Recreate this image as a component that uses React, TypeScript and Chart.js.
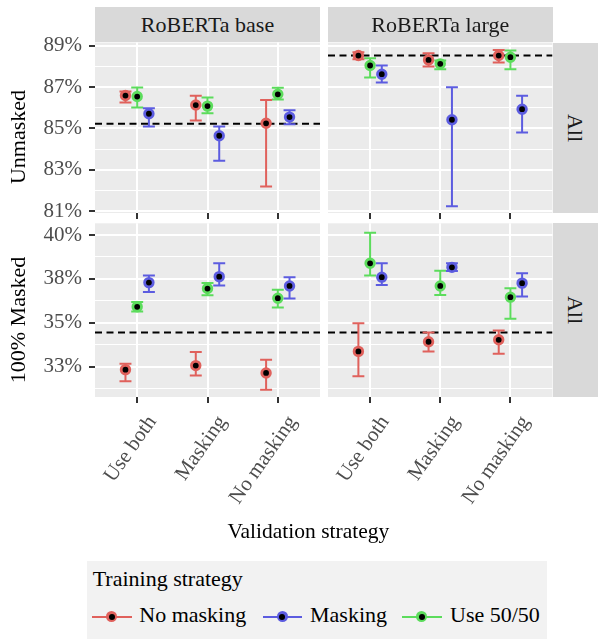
import React, { useEffect, useRef } from 'react';
import { Chart, registerables } from 'chart.js';

Chart.register(...registerables);

// ---------- data ----------
const CATEGORIES = ['Use both', 'Masking', 'No masking'];
const SERIES = ['No masking', 'Masking', 'Use 50/50'];
const MODELS = ['RoBERTa base', 'RoBERTa large'];
const ROW_TITLES = ['Unmasked', '100% Masked'];
const ROW_STRIP = 'All';
const LEGEND_TITLE = 'Training strategy';
const X_TITLE = 'Validation strategy';

// each array: rows = series (No masking, Masking, Use 50/50), columns = categories
const BASE_UNMASKED_MEAN = [[86.59, 86.13, 85.25], [85.71, 84.65, 85.55], [86.54, 86.08, 86.65]];
const BASE_UNMASKED_LOW = [[86.25, 85.39, 82.2], [85.1, 83.44, 85.2], [86.01, 85.74, 86.4]];
const BASE_UNMASKED_HIGH = [[86.78, 86.58, 86.37], [85.98, 85.1, 85.88], [86.98, 86.49, 86.97]];
const LARGE_UNMASKED_MEAN = [[88.52, 88.31, 88.52], [87.62, 85.42, 85.93], [88.04, 88.12, 88.44]];
const LARGE_UNMASKED_LOW = [[88.34, 87.99, 88.18], [87.22, 81.24, 84.81], [87.46, 87.86, 87.86]];
const LARGE_UNMASKED_HIGH = [[88.68, 88.63, 88.79], [88.04, 86.99, 86.58], [88.39, 88.28, 88.76]];
const BASE_MASKED_MEAN = [[32.33, 32.56, 32.14], [37.29, 37.63, 37.1], [35.91, 36.95, 36.4]];
const BASE_MASKED_LOW = [[31.67, 32.0, 31.19], [36.76, 37.12, 36.38], [35.64, 36.57, 35.87]];
const BASE_MASKED_HIGH = [[32.67, 33.33, 32.9], [37.69, 38.39, 37.6], [36.18, 37.27, 36.88]];
const LARGE_MASKED_MEAN = [[33.37, 33.92, 34.03], [37.6, 38.16, 37.26], [38.39, 37.1, 36.46]];
const LARGE_MASKED_LOW = [[31.95, 33.37, 33.24], [37.16, 37.95, 36.5], [37.69, 36.59, 35.23]];
const LARGE_MASKED_HIGH = [[34.98, 34.45, 34.56], [38.39, 38.39, 37.82], [40.13, 37.97, 36.97]];
const UNMASKED_BASELINES = [85.23, 88.52];
const MASKED_BASELINES = [34.45, 34.45];

const UNMASKED_TICKS = [81, 83, 85, 87, 89];
const UNMASKED_TICK_LABELS = ['81%', '83%', '85%', '87%', '89%'];
const UNMASKED_MINOR = [82, 84, 86, 88];
const MASKED_TICKS = [32.5, 35, 37.5, 40];
const MASKED_TICK_LABELS = ['33%', '35%', '38%', '40%'];
const MASKED_MINOR = [31.25, 33.75, 36.25, 38.75];
const UNMASKED_LIMITS = [80.92, 89.15];
const MASKED_LIMITS = [30.77, 40.67];
const X_LIMITS = [0.4, 3.6];

const MEANS = [[BASE_UNMASKED_MEAN, LARGE_UNMASKED_MEAN], [BASE_MASKED_MEAN, LARGE_MASKED_MEAN]];
const LOWS = [[BASE_UNMASKED_LOW, LARGE_UNMASKED_LOW], [BASE_MASKED_LOW, LARGE_MASKED_LOW]];
const HIGHS = [[BASE_UNMASKED_HIGH, LARGE_UNMASKED_HIGH], [BASE_MASKED_HIGH, LARGE_MASKED_HIGH]];
const BASELINES = [UNMASKED_BASELINES, MASKED_BASELINES];

// ---------- style / layout ----------
const W = 601;
const H = 639;
const FONT = 'Liberation Serif';
const COLORS = ['#E0615C', '#5C5CE0', '#5CDC5C'];
const DODGE = [-1 / 6, 1 / 6, 0];
const CAP = 0.085;
const COL_X = [[95, 320], [328, 552.5]];
const ROW_Y = [[42.5, 213], [223.3, 397]];
const Y_AXIS_W = 80;
const X_AXIS_H = 140;
const X_ROT = 55;
const TICK_FONT = 21;

Chart.defaults.font.family = FONT;

const panelBg = {
  id: 'panelBg',
  beforeDraw(chart: any) {
    const { ctx, chartArea: a } = chart;
    ctx.save();
    ctx.fillStyle = '#EBEBEB';
    ctx.fillRect(a.left, a.top, a.right - a.left, a.bottom - a.top);
    ctx.restore();
  },
};

function makeConfig(row: number, col: number): any {
  const mean = MEANS[row][col];
  const low = LOWS[row][col];
  const high = HIGHS[row][col];
  const major = row === 0 ? UNMASKED_TICKS : MASKED_TICKS;
  const labels = row === 0 ? UNMASKED_TICK_LABELS : MASKED_TICK_LABELS;
  const minor = row === 0 ? UNMASKED_MINOR : MASKED_MINOR;
  const limits = row === 0 ? UNMASKED_LIMITS : MASKED_LIMITS;
  const allTicks = [...major, ...minor].sort((a, b) => a - b);
  const majorIndex = (v: number) => major.findIndex((m) => Math.abs(m - v) < 1e-6);
  const [x0, x1] = COL_X[col];
  const [y0, y1] = ROW_Y[row];
  const yW = col === 0 ? Y_AXIS_W : 0;
  const showX = row === 1;

  const datasets: any[] = [];
  SERIES.forEach((name, s) => {
    datasets.push({
      type: 'scatter',
      label: name,
      data: CATEGORIES.map((_, i) => ({ x: i + 1 + DODGE[s], y: mean[s][i] })),
      pointRadius: 4.3,
      pointBorderWidth: 2.8,
      pointBackgroundColor: '#000000',
      pointBorderColor: COLORS[s],
      backgroundColor: '#000000',
      borderColor: COLORS[s],
      order: 0,
      clip: false,
    });
  });
  SERIES.forEach((name, s) => {
    const pts: any[] = [];
    CATEGORIES.forEach((_, i) => {
      const x = i + 1 + DODGE[s];
      pts.push(
        { x, y: low[s][i] }, { x, y: high[s][i] }, { x, y: null },
        { x: x - CAP, y: high[s][i] }, { x: x + CAP, y: high[s][i] }, { x, y: null },
        { x: x - CAP, y: low[s][i] }, { x: x + CAP, y: low[s][i] }, { x, y: null },
      );
    });
    datasets.push({
      type: 'line',
      label: name + ' interval',
      data: pts,
      borderColor: COLORS[s],
      borderWidth: 2,
      pointRadius: 0,
      spanGaps: false,
      tension: 0,
      fill: false,
      order: 1,
      clip: false,
    });
  });
  datasets.push({
    type: 'line',
    label: 'baseline',
    data: X_LIMITS.map((x) => ({ x, y: BASELINES[row][col] })),
    borderColor: '#000000',
    borderWidth: 2,
    borderDash: [7, 4.5],
    pointRadius: 0,
    order: 2,
  });

  const tickFont = { family: FONT, size: TICK_FONT, style: 'normal', weight: 'normal', lineHeight: 1.2 };

  return {
    type: 'scatter',
    data: { datasets },
    plugins: [panelBg],
    options: {
      animation: false,
      responsive: false,
      events: [],
      font: { family: FONT },
      layout: { padding: { left: x0 - yW, right: W - x1, top: y0, bottom: H - y1 - X_AXIS_H } },
      plugins: { legend: { display: false }, tooltip: { enabled: false } },
      scales: {
        x: {
          type: 'linear',
          position: 'bottom',
          min: X_LIMITS[0],
          max: X_LIMITS[1],
          afterBuildTicks: (s: any) => {
            s.ticks = CATEGORIES.map((_, i) => ({ value: i + 1 }));
          },
          afterFit: (s: any) => {
            s.height = X_AXIS_H;
            s.paddingLeft = 0; s.paddingRight = 0; s.paddingTop = 0; s.paddingBottom = 0;
          },
          grid: { color: '#FFFFFF', lineWidth: 2, drawTicks: true, tickLength: 6, tickColor: '#333333', tickWidth: 2 },
          border: { display: false },
          ticks: {
            autoSkip: false,
            minRotation: X_ROT,
            maxRotation: X_ROT,
            padding: 8,
            labelOffset: 15,
            color: '#4D4D4D',
            font: tickFont,
            callback: (_v: any, i: number) => (showX ? CATEGORIES[i] : ''),
          },
        },
        y: {
          type: 'linear',
          position: 'left',
          min: limits[0],
          max: limits[1],
          afterBuildTicks: (s: any) => {
            s.ticks = allTicks.map((v) => ({ value: v }));
          },
          afterFit: (s: any) => {
            s.width = yW;
            s.paddingLeft = 0; s.paddingRight = 0; s.paddingTop = 0; s.paddingBottom = 0;
          },
          grid: {
            color: '#FFFFFF',
            lineWidth: (ctx: any) => (majorIndex(ctx.tick.value) >= 0 ? 2 : 1),
            drawTicks: col === 0,
            tickLength: 6,
            tickWidth: 2,
            tickColor: (ctx: any) => (majorIndex(ctx.tick.value) >= 0 ? '#333333' : 'rgba(0,0,0,0)'),
          },
          border: { display: false },
          ticks: {
            autoSkip: false,
            padding: 7,
            color: '#4D4D4D',
            font: tickFont,
            callback: (v: any) => {
              if (col !== 0) return '';
              const k = majorIndex(Number(v));
              return k >= 0 ? labels[k] : '';
            },
          },
        },
      },
    },
  };
}

const textBase: React.CSSProperties = {
  position: 'absolute',
  fontFamily: FONT,
  lineHeight: 1,
  whiteSpace: 'nowrap',
};

function CenterText(props: { x: number; y: number; size: number; color: string; rotate?: number; children: any }) {
  const { x, y, size, color, rotate, children } = props;
  return (
    <div
      style={{
        ...textBase,
        left: x,
        top: y,
        fontSize: size,
        color,
        transform: `translate(-50%, -50%)${rotate ? ` rotate(${rotate}deg)` : ''}`,
      }}
    >
      {children}
    </div>
  );
}

function LegendKey(props: { x0: number; x1: number; y: number; color: string }) {
  const { x0, x1, y, color } = props;
  const cx = (x0 + x1) / 2;
  return (
    <>
      <div style={{ position: 'absolute', left: x0, top: y - 1, width: x1 - x0, height: 2, background: color }} />
      <div style={{ position: 'absolute', left: cx - 5.5, top: y - 5.5, width: 11, height: 11, borderRadius: '50%', background: color }} />
      <div style={{ position: 'absolute', left: cx - 3, top: y - 3, width: 6, height: 6, borderRadius: '50%', background: '#000' }} />
    </>
  );
}

const LEGEND_KEYS = [[91.7, 131.7], [262.7, 301.7], [401.7, 441.7]];
const LEGEND_TEXT_X = [139.3, 310, 450];

export default function App() {
  const refs = [useRef<HTMLCanvasElement>(null), useRef<HTMLCanvasElement>(null), useRef<HTMLCanvasElement>(null), useRef<HTMLCanvasElement>(null)];

  useEffect(() => {
    const charts: Chart[] = [];
    [0, 1].forEach((row) => {
      [0, 1].forEach((col) => {
        const c = refs[row * 2 + col].current;
        if (c) charts.push(new Chart(c, makeConfig(row, col)));
      });
    });
    return () => charts.forEach((ch) => ch.destroy());
  }, []);

  return (
    <div style={{ position: 'absolute', left: 0, top: 0, width: W, height: H, background: '#FFFFFF', overflow: 'hidden' }}>
      {refs.map((r, i) => (
        <canvas key={i} ref={r} width={W} height={H} style={{ position: 'absolute', left: 0, top: 0, width: W, height: H }} />
      ))}
      {MODELS.map((m, col) => (
        <React.Fragment key={m}>
          <div style={{ position: 'absolute', left: COL_X[col][0], top: 7, width: COL_X[col][1] - COL_X[col][0], height: 35, background: '#D9D9D9' }} />
          <CenterText x={(COL_X[col][0] + COL_X[col][1]) / 2} y={25} size={22} color="#1A1A1A">{m}</CenterText>
        </React.Fragment>
      ))}
      {ROW_Y.map(([y0, y1], row) => (
        <React.Fragment key={row}>
          <div style={{ position: 'absolute', left: 552.5, top: y0, width: 45, height: y1 - y0, background: '#D9D9D9' }} />
          <CenterText x={575} y={(y0 + y1) / 2} size={22} color="#1A1A1A" rotate={90}>{ROW_STRIP}</CenterText>
        </React.Fragment>
      ))}
      <CenterText x={17.5} y={136.5} size={22} color="#000000" rotate={-90}>{ROW_TITLES[0]}</CenterText>
      <CenterText x={17.5} y={320} size={22} color="#000000" rotate={-90}>{ROW_TITLES[1]}</CenterText>
      <CenterText x={308.3} y={532} size={21.5} color="#000000">{X_TITLE}</CenterText>
      <div style={{ position: 'absolute', left: 86.7, top: 561, width: 460, height: 78, background: '#F2F2F2' }} />
      <div style={{ ...textBase, left: 92.7, top: 579 - 11, fontSize: 22, color: '#000000' }}>{LEGEND_TITLE}</div>
      {SERIES.map((s, i) => (
        <React.Fragment key={s}>
          <LegendKey x0={LEGEND_KEYS[i][0]} x1={LEGEND_KEYS[i][1]} y={616.7} color={COLORS[i]} />
          <div style={{ ...textBase, left: LEGEND_TEXT_X[i], top: 614.6 - 11, fontSize: 22, color: '#000000' }}>{s}</div>
        </React.Fragment>
      ))}
    </div>
  );
}
